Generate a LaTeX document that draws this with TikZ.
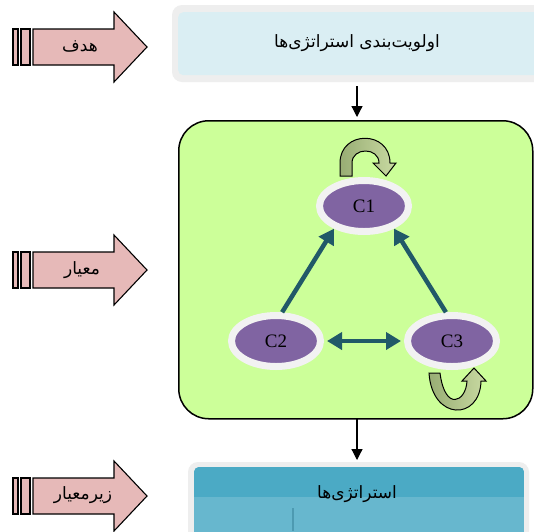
\documentclass[tikz,border=0pt]{standalone}
\usepackage{fontspec}
\setmainfont{Liberation Serif}
\newfontfamily\arabicfont[Script=Arabic]{DejaVu Sans}
\TeXXeTstate=1
\usetikzlibrary{shapes.geometric,arrows.meta}
\definecolor{pinkf}{HTML}{E6B9B8}
\definecolor{greenf}{HTML}{CCFF99}
\definecolor{purp}{HTML}{8064A2}
\definecolor{ring}{HTML}{F2F2F2}
\definecolor{tealA}{HTML}{215968}
\definecolor{lblue}{HTML}{DAEEF3}
\definecolor{outg}{HTML}{EEEEEE}
\definecolor{botA}{HTML}{4BAAC5}
\definecolor{botB}{HTML}{67B7CE}
\definecolor{oliveD}{HTML}{98AD74}
\definecolor{oliveL}{HTML}{C9DAA2}
\tikzset{
  bigarrow/.style={draw=black, line width=1.1pt, fill=pinkf, line join=miter},
  crit/.style={ellipse, fill=purp, draw=ring, line width=7pt, minimum width=89pt, minimum height=51pt, inner sep=0pt, font=\fontsize{19}{19}\selectfont},
  link/.style={draw=tealA, line width=4.5pt, -{Triangle[length=15pt,width=17pt]}},
  dlink/.style={draw=tealA, line width=4.5pt, {Triangle[length=15pt,width=17pt]}-{Triangle[length=15pt,width=17pt]}},
  flow/.style={draw=black, line width=1.2pt, -{Triangle[length=11pt,width=11pt]}},
  loopar/.style={draw=black, line width=1pt, left color=oliveD, right color=oliveL, line join=miter},
  ptext/.style={font=\arabicfont\fontsize{17}{20}\selectfont, inner sep=0pt}
}
\begin{document}
\begin{tikzpicture}[x=1pt,y=-1pt]
\useasboundingbox (0,0) rectangle (534,531);
\fill[white] (0,0) rectangle (534,531);
% top box
\fill[outg, rounded corners=10pt] (172,5) rectangle (545,82);
\node[fill=lblue, rounded corners=5pt, minimum width=372pt, minimum height=63pt, anchor=north west, inner sep=0pt] (topbox) at (178,12) {};
\node[ptext] (toptext) at (357,43) {\beginR اولویت‌بندی استراتژی‌ها\endR};
% green box
\node[draw=black, line width=1.5pt, fill=greenf, rounded corners=30pt, minimum width=354pt, minimum height=298pt, anchor=north west, inner sep=0pt] (gbox) at (178,120) {};
% bottom box
\fill[outg, rounded corners=10pt] (188,462) rectangle (529,545);
\begin{scope}
\clip[rounded corners=5pt] (194,467) rectangle (524,545);
\fill[botB] (194,467) rectangle (524,545);
\fill[botA] (194,467) rectangle (524,497);
\draw[draw=botA!80!black, line width=1.5pt, opacity=0.6] (293,508) -- (293,531);
\end{scope}
\node[inner sep=0pt, minimum width=330pt, minimum height=60pt, anchor=north west] (botbox) at (194,467) {};
\node[ptext] (bottext) at (357,494) {\beginR استراتژی‌ها\endR};
% flow arrows
\coordinate (f1s) at (357,86);
\coordinate (f1e) at (357,117);
\coordinate (f2s) at (357,419);
\coordinate (f2e) at (357,460);
\draw[flow] (f1s) -- (f1e);
\draw[flow] (f2s) -- (f2e);
% left arrows
\foreach \yc/\name in {47/a1,270/a2,496/a3}{
  \draw[bigarrow] (13,\yc-18) rectangle (18,\yc+18);
  \draw[bigarrow] (21,\yc-18) rectangle (30,\yc+18);
  \draw[bigarrow] (33,\yc-18) -- (114,\yc-18) -- (114,\yc-35) -- (147,\yc) -- (114,\yc+35) -- (114,\yc+18) -- (33,\yc+18) -- cycle;
}
\node[ptext] (t1) at (80,46) {\beginR هدف\endR};
\node[ptext] (t2) at (82,270) {\beginR معیار\endR};
\node[ptext] (t3) at (83,495) {\beginR زیرمعیار\endR};
% criteria
\node[crit] (c1) at (364,206) {C1};
\node[crit] (c2) at (276,341) {C2};
\node[crit] (c3) at (452,341) {C3};
\draw[link] (c2.78) -- (c1.217);
\draw[link] (c3.102) -- (c1.-37);
\draw[dlink] ([xshift=3pt]c2.east) -- ([xshift=-3pt]c3.west);
% loops
\draw[loopar] (340,176) -- (340,163) .. controls (340,130) and (390,130) .. (390,163) -- (396,163) -- (386,176) -- (373,163) -- (379,163) .. controls (379,147) and (352,147) .. (352,163) -- (352,176) -- cycle;
\draw[loopar] (429,373) .. controls (432,421) and (480,421) .. (481,381) -- (486,381) -- (474,368) -- (462,381) -- (467,381) .. controls (466,402) and (445,412) .. (440,373) -- cycle;
\end{tikzpicture}
\end{document}
